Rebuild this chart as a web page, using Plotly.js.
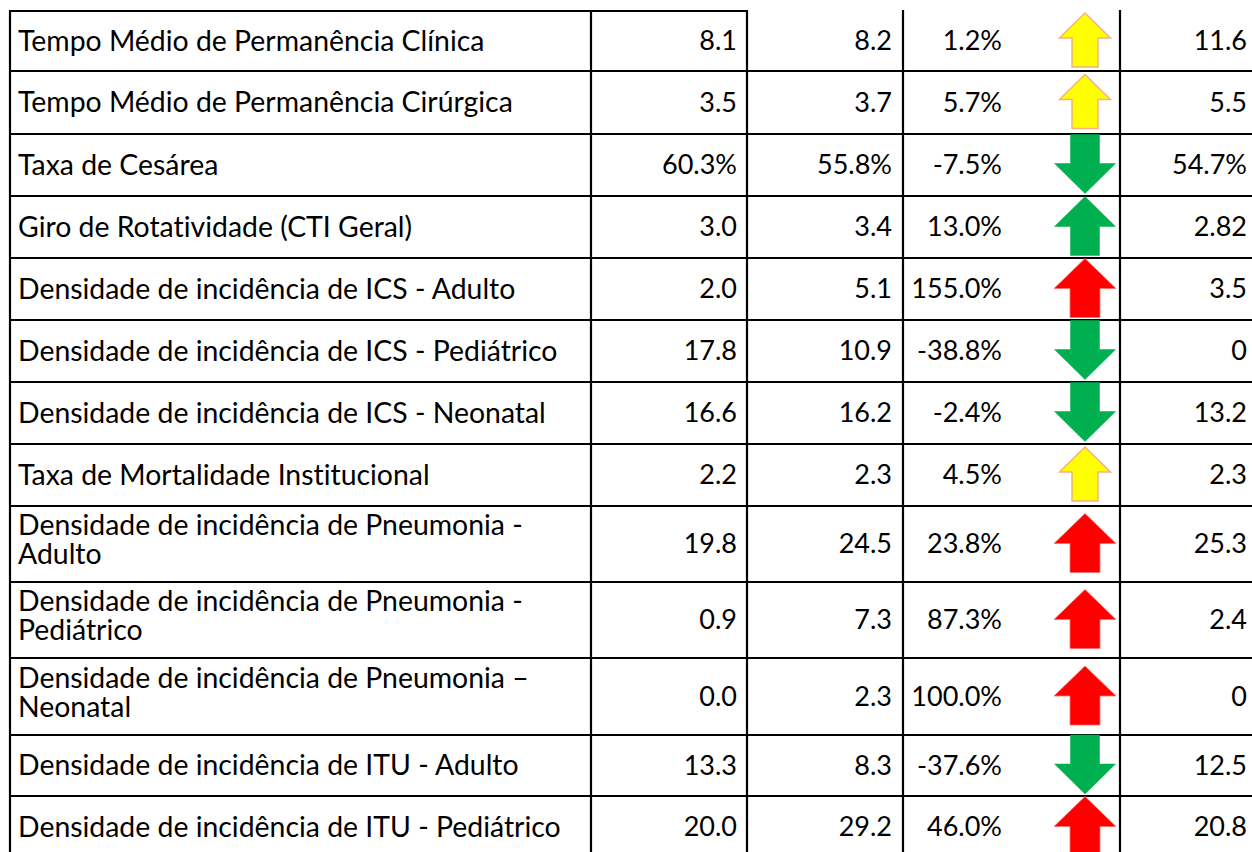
<!DOCTYPE html>
<html>
<head>
<meta charset="utf-8">
<script src="https://cdn.plot.ly/plotly-3.0.1.min.js"></script>
<style>
  html, body { margin: 0; padding: 0; background: #ffffff; }
  #chart { width: 1252px; height: 852px; }
  #chart text { font-variant-ligatures: none; font-feature-settings: "liga" 0, "clig" 0; }
</style>
</head>
<body>
<div id="chart"></div>
<script>
// ---------------- DATA ----------------
const indicators = [
  "Tempo Médio de Permanência Clínica",
  "Tempo Médio de Permanência Cirúrgica",
  "Taxa de Cesárea",
  "Giro de Rotatividade (CTI Geral)",
  "Densidade de incidência de ICS - Adulto",
  "Densidade de incidência de ICS - Pediátrico",
  "Densidade de incidência de ICS - Neonatal",
  "Taxa de Mortalidade Institucional",
  "Densidade de incidência de Pneumonia -\nAdulto",
  "Densidade de incidência de Pneumonia -\nPediátrico",
  "Densidade de incidência de Pneumonia –\nNeonatal",
  "Densidade de incidência de ITU - Adulto",
  "Densidade de incidência de ITU - Pediátrico"
];
const units        = ["", "", "%", "", "", "", "", "", "", "", "", "", ""];
const previousVals = [8.1, 3.5, 60.3, 3.0, 2.0, 17.8, 16.6, 2.2, 19.8, 0.9, 0.0, 13.3, 20.0];
const currentVals  = [8.2, 3.7, 55.8, 3.4, 5.1, 10.9, 16.2, 2.3, 24.5, 7.3, 2.3, 8.3, 29.2];
const changePct    = [1.2, 5.7, -7.5, 13.0, 155.0, -38.8, -2.4, 4.5, 23.8, 87.3, 100.0, -37.6, 46.0];
const status       = ["warn", "warn", "good", "good", "bad", "good", "good", "warn", "bad", "bad", "bad", "good", "bad"];
const targetVals   = [11.6, 5.5, 54.7, 2.82, 3.5, 0, 13.2, 2.3, 25.3, 2.4, 0, 12.5, 20.8];

// ---------------- LAYOUT / STYLE ----------------
const W = 1252, H = 852;
const FONT = "Lato, 'Open Sans', sans-serif";
const FS = 27;         // numbers
const FS_LABEL = 28.4; // indicator names
const tableTop = 11;
const rowHeights = [60, 63, 62, 62, 62, 62, 62, 62, 76, 76, 77, 61, 62];
const colLines = [10, 591, 747, 903, 1120];
const textX = { label: 18, prev: 737, curr: 892, pct: 1002, target: 1247 };
const textDy = 2.5;
const arrowX = 1085;
const lineSpacing = 29;
const arrowStyle = {
  warn: { fill: "#FFFF00", line: "#F4B183", lw: 1.5, h: 54, head: 25, w: 51, shaft: 26 },
  good: { fill: "#00B050", line: "#00B050", lw: 0.5, h: 59, head: 30, w: 61, shaft: 29 },
  bad:  { fill: "#FF0000", line: "#FF6F6F", lw: 0.8, h: 59, head: 30, w: 62, shaft: 30 }
};

// row boundaries and centers
const bounds = [tableTop];
rowHeights.forEach(h => bounds.push(bounds[bounds.length - 1] + h));
const centers = rowHeights.map((h, i) => bounds[i] + h / 2);
const textY = centers.map(c => c + textDy);

// ---------------- TEXT TRACES ----------------
function textTrace(xs, ys, texts, pos, size) {
  return {
    type: "scatter", mode: "text", x: xs, y: ys, text: texts,
    textposition: pos, marker: { size: 0 },
    textfont: { family: FONT, size: size, color: "#000000" },
    hoverinfo: "skip", showlegend: false, cliponaxis: false
  };
}

const lx = [], ly = [], lt = [];
indicators.forEach((lab, i) => {
  const parts = lab.split("\n");
  if (parts.length === 1) {
    lx.push(textX.label); ly.push(textY[i]); lt.push(parts[0]);
  } else {
    const mid = textY[i] - 4;
    parts.forEach((p, k) => {
      lx.push(textX.label);
      ly.push(mid + (k - (parts.length - 1) / 2) * lineSpacing);
      lt.push(p);
    });
  }
});

const fmt1 = (v, i) => v.toFixed(1) + units[i];
const traces = [
  textTrace(lx, ly, lt, "middle right", FS_LABEL),
  textTrace(previousVals.map(() => textX.prev), textY, previousVals.map(fmt1), "middle left", FS),
  textTrace(currentVals.map(() => textX.curr), textY, currentVals.map(fmt1), "middle left", FS),
  textTrace(changePct.map(() => textX.pct), textY, changePct.map(v => v.toFixed(1) + "%"), "middle left", FS),
  textTrace(targetVals.map(() => textX.target), textY, targetVals.map((v, i) => String(v) + units[i]), "middle left", FS)
];

// ---------------- SHAPES ----------------
const shapes = [];
const bottomY = bounds[bounds.length - 1];
const LW = 2.2;
// top border (only first two columns)
shapes.push({ type: "line", xref: "x", yref: "y", x0: colLines[0], x1: colLines[2], y0: tableTop, y1: tableTop,
  line: { color: "#000", width: LW } });
// horizontal row separators
bounds.slice(1).forEach(y => {
  shapes.push({ type: "line", xref: "x", yref: "y", x0: colLines[0], x1: W + 5, y0: y, y1: y,
    line: { color: "#000", width: LW } });
});
// vertical lines
colLines.forEach(x => {
  shapes.push({ type: "line", xref: "x", yref: "y", x0: x, x1: x, y0: tableTop - 1, y1: bottomY + 5,
    line: { color: "#000", width: LW } });
});

// arrows
changePct.forEach((v, i) => {
  const s = arrowStyle[status[i]];
  const cy = centers[i] - 1;
  const up = v >= 0;
  const d = up ? 1 : -1;
  const tipY = cy - d * s.h / 2;
  const baseY = tipY + d * s.head;
  const endY = cy + d * s.h / 2;
  const hw = s.w / 2, sw = s.shaft / 2;
  const pts = [
    [arrowX, tipY], [arrowX + hw, baseY], [arrowX + sw, baseY], [arrowX + sw, endY],
    [arrowX - sw, endY], [arrowX - sw, baseY], [arrowX - hw, baseY]
  ];
  const path = "M" + pts.map(p => p[0] + "," + p[1]).join(" L") + " Z";
  shapes.push({ type: "path", xref: "x", yref: "y", path: path, fillcolor: s.fill,
    line: { color: s.line, width: s.lw }, layer: "above" });
});

const layout = {
  width: W, height: H,
  margin: { l: 0, r: 0, t: 0, b: 0, pad: 0 },
  paper_bgcolor: "#ffffff", plot_bgcolor: "#ffffff",
  xaxis: { range: [0, W], visible: false, fixedrange: true },
  yaxis: { range: [H, 0], visible: false, fixedrange: true },
  shapes: shapes,
  showlegend: false,
  hovermode: false
};

Plotly.newPlot("chart", traces, layout, { displayModeBar: false, staticPlot: true });
</script>
</body>
</html>
